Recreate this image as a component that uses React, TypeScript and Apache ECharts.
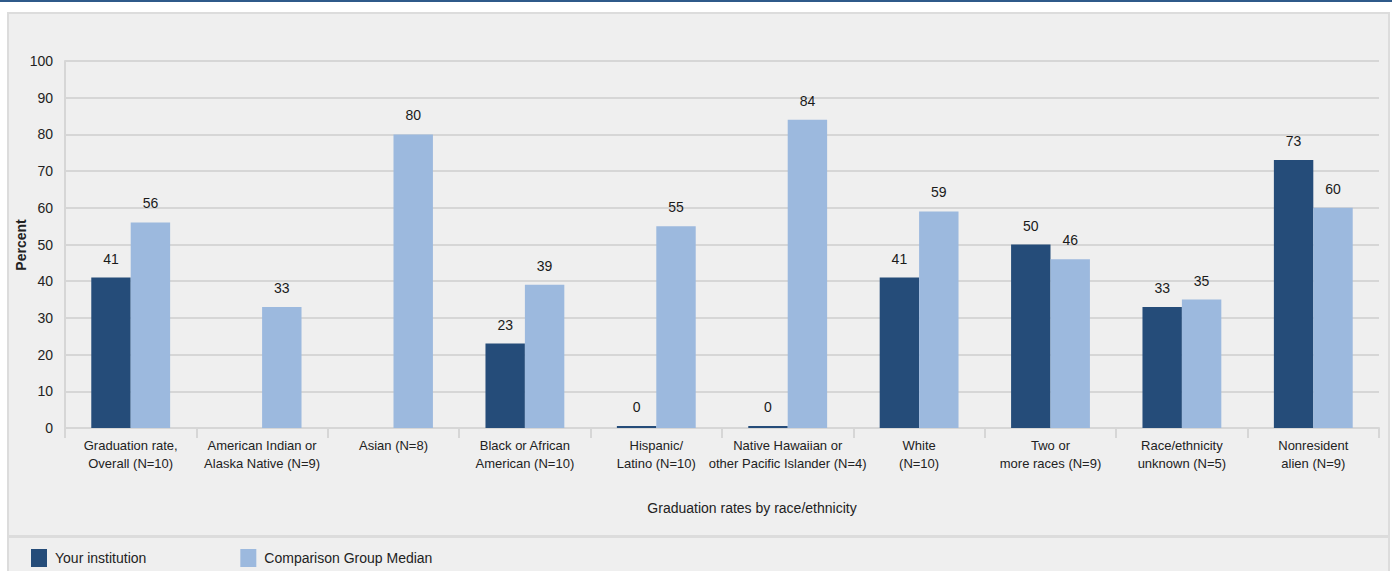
import React, { useEffect, useRef } from "react";
import * as echarts from "echarts";

const categories = [
  "Graduation rate,\nOverall (N=10)",
  "American Indian or\nAlaska Native (N=9)",
  "Asian (N=8)",
  "Black or African\nAmerican (N=10)",
  "Hispanic/\nLatino (N=10)",
  "Native Hawaiian or\nother Pacific Islander (N=4)",
  "White\n(N=10)",
  "Two or\nmore races (N=9)",
  "Race/ethnicity\nunknown (N=5)",
  "Nonresident\nalien (N=9)",
];
const yourInstitution: (number | string)[] = [41, "-", "-", 23, 0, 0, 41, 50, 33, 73];
const comparisonMedian = [56, 33, 80, 39, 55, 84, 59, 46, 35, 60];
const yTicks = [0, 10, 20, 30, 40, 50, 60, 70, 80, 90, 100];
const xTitle = "Graduation rates by race/ethnicity";
const yTitle = "Percent";

const FONT = "Liberation Sans, Arial, Helvetica, sans-serif";
const DARK = "#254c79";
const LIGHT = "#9cb9de";
const BG = "#efefef";
const GRID = "#d6d6d6";

export default function App() {
  const ref = useRef<HTMLDivElement>(null);
  useEffect(() => {
    if (!ref.current) return;
    const chart = echarts.init(ref.current, undefined, { renderer: "svg" });
    chart.setOption({
      animation: false,
      backgroundColor: "#ffffff",
      textStyle: { fontFamily: FONT },
      graphic: [
        { type: "rect", shape: { x: 0, y: 0, width: 1392, height: 2 }, style: { fill: "#2f5a8a" }, z: -10 },
        { type: "rect", shape: { x: 8, y: 13, width: 1381, height: 523 }, style: { fill: BG, stroke: "#dcdcdc", lineWidth: 2 }, z: -10 },
        { type: "rect", shape: { x: 8, y: 537, width: 1381, height: 40 }, style: { fill: BG, stroke: "#dcdcdc", lineWidth: 2 }, z: -10 },
        {
          type: "text",
          x: 752,
          y: 508,
          style: { text: xTitle, fontSize: 14, fill: "#222", fontFamily: FONT, align: "center", verticalAlign: "middle" },
        },
        {
          type: "text",
          x: 21,
          y: 245,
          rotation: Math.PI / 2,
          style: {
            text: yTitle,
            fontSize: 14,
            fontWeight: "bold",
            fill: "#222",
            fontFamily: FONT,
            align: "center",
            verticalAlign: "middle",
          },
        },
      ],
      legend: {
        left: 26,
        top: 544,
        itemWidth: 16,
        itemHeight: 18,
        itemGap: 94,
        icon: "rect",
        textStyle: { fontSize: 14, color: "#222", fontFamily: FONT, padding: [0, 0, 0, 3] },
        data: ["Your institution", "Comparison Group Median"],
      },
      grid: { left: 65, right: 13, top: 61, bottom: 143, containLabel: false, outerBoundsMode: "none" },
      xAxis: {
        type: "category",
        data: categories,
        axisLine: { show: true, lineStyle: { color: GRID, width: 2 } },
        axisTick: { show: true, length: 10, lineStyle: { color: GRID, width: 2 } },
        axisLabel: { fontSize: 13, color: "#222", lineHeight: 18, margin: 8, interval: 0, fontFamily: FONT },
      },
      yAxis: {
        type: "value",
        min: 0,
        max: 100,
        interval: 10,
        axisLine: { show: true, lineStyle: { color: GRID, width: 2 } },
        axisTick: { show: false },
        splitLine: { show: true, lineStyle: { color: GRID, width: 2 } },
        axisLabel: {
          fontSize: 14,
          color: "#222",
          margin: 12,
          fontFamily: FONT,
          formatter: (v: number) => (yTicks.includes(v) ? String(v) : ""),
        },
      },
      series: [
        {
          name: "Your institution",
          type: "bar",
          data: yourInstitution,
          barGap: "0%",
          barCategoryGap: "40%",
          barMinHeight: 2,
          itemStyle: { color: DARK },
          label: { show: true, position: "top", distance: 12, fontSize: 14, color: "#1a1a1a", fontFamily: FONT },
        },
        {
          name: "Comparison Group Median",
          type: "bar",
          data: comparisonMedian,
          itemStyle: { color: LIGHT },
          label: { show: true, position: "top", distance: 12, fontSize: 14, color: "#1a1a1a", fontFamily: FONT },
        },
      ],
    });
    return () => chart.dispose();
  }, []);
  return (
    <div
      ref={ref}
      style={{ position: "fixed", left: 0, top: 0, width: 1392, height: 571 }}
    />
  );
}
